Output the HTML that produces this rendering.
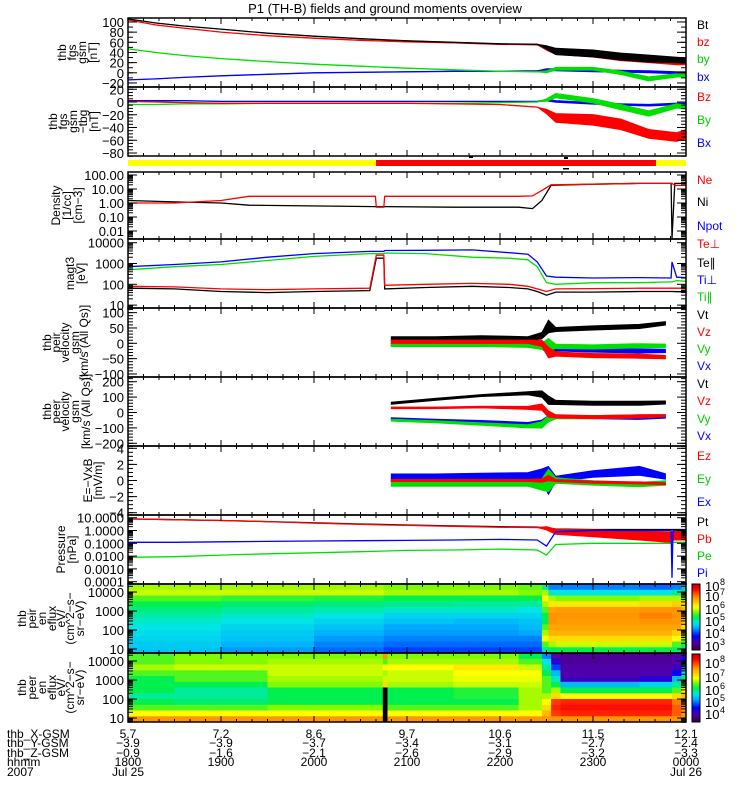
<!DOCTYPE html>
<html><head><meta charset="utf-8"><style>
body{margin:0;background:#fff}
svg{display:block;font-family:"Liberation Sans",sans-serif}
</style></head><body>
<svg id="chart" width="750" height="800" viewBox="0 0 750 800" xmlns="http://www.w3.org/2000/svg">
<rect x="0" y="0" width="750" height="800" fill="#fff"/>
<text x="385" y="13" font-size="13" text-anchor="middle">P1 (TH-B) fields and ground moments overview</text>
</svg>
<script>
// ---- data (time in hours after 18:00) ----
const fgsTimes=[0,0.3,0.6,1,1.5,2,2.5,3,3.5,4,4.4,4.5,4.6,5,5.3,5.6,5.9,6];
const fgsBt=[106,98,92,86,78,72,67,63,60,57,56,50,42,38,32,28,25,24];
const fgsBtSpread=[0,0,0,0,0,0,0,0,0,0,0,5,9,10,10,10,8,8];
const fgsBz=[104,94,88,80,73,68,64,61,59,56,55,47,40,35,28,24,20,20];
const fgsBzSpread=[0,0,0,0,0,0,0,0,0,0,0,4,6,6,6,6,6,6];
const fgsBy=[47,40,34,28,22,17,13,9,6,3,2,2,8,8,0,-12,-5,-5];
const fgsBySpread=[0,0,0,0,0,0,0,0,0,0,0,3,4,4,5,6,5,5];
const fgsBx=[-14,-12,-9,-6,-3,0,1,2,3,3,4,6,6,4,3,2,0,0];
const fgsBxSpread=[0,0,0,0,0,0,0,0,0,0,0,3,3,3,3,3,3,3];
const dBz=[1,0,-1,-2,-2,-2,-2,-2,-3,-4,-8,-15,-25,-28,-35,-50,-55,-50];
const dBzSpread=[0,0,0,0,0,0,0,0,0,0,0,5,10,12,12,10,10,10];
const dBy=[-4,-4,-3,-3,-2,-2,-2,-2,-2,-1,0,3,10,2,-8,-18,-6,-8];
const dBySpread=[0,0,0,0,0,0,0,0,0,0,0,3,5,5,6,6,5,5];
const dBx=[2,2,2,1,1,1,1,1,1,1,1,3,1,-2,-4,-5,-3,-3];
const dBxSpread=[0,0,0,0,0,0,0,0,0,0,0,2,2,2,2,2,2,2];

const denTimes=[0,0.5,1.0,1.3,2.66,2.67,2.75,2.76,3.5,4.2,4.35,4.45,4.55,5,5.5,5.84,5.85,5.88,6];
const denNe=[1,1,1.5,3,3,0.5,0.5,3,3,3,3.2,8,20,22,25,25,25,18,18];
const denNi=[1.5,1.2,1,0.7,0.55,0.55,0.55,0.55,0.5,0.5,0.4,1.5,18,22,25,25,0.003,25,25];

const tmpTimes=[0,0.5,1,1.5,2,2.6,2.67,2.75,2.76,3.2,3.7,4.1,4.3,4.4,4.5,4.6,5,5.5,5.84,5.85,5.9,6];
const tmpTiPerp=[700,900,1200,2000,3000,3800,3800,3800,4200,4300,4500,3300,2800,1200,250,220,200,210,200,1200,220,210];
const tmpTiPar=[500,700,900,1400,2200,3000,3000,3000,3200,3000,2000,1800,1500,700,120,100,120,120,130,130,150,140];
const tmpTePerp=[80,75,60,55,60,65,2500,2500,90,100,110,100,80,60,45,60,62,65,65,65,65,65];
const tmpTePar=[65,60,45,40,45,50,1800,1800,60,70,80,70,60,45,30,42,42,45,45,45,44,44];

const velTimes=[2.83,3.3,3.8,4.3,4.45,4.52,4.6,5,5.5,5.78];
const irVt=[15,15,18,15,25,55,45,50,55,65];
const irVtSpread=[10,10,10,10,15,30,10,10,10,8];
const irVz=[5,5,5,5,0,-30,-35,-40,-42,-45];
const irVzSpread=[8,8,8,8,15,25,10,10,10,8];
const irVy=[-5,-5,-5,-8,-10,-5,-10,-12,-8,-8];
const irVySpread=[8,8,8,8,15,30,10,10,10,8];
const irVx=[-5,-5,-5,-5,-8,-15,-18,-22,-25,-25];
const irVxSpread=[7,7,7,7,15,30,10,10,10,8];
const erVt=[60,85,110,125,120,80,65,60,60,65];
const erVtSpread=[10,10,10,15,30,40,20,20,20,15];
const erVz=[30,30,35,30,35,-10,-25,-30,-25,-20];
const erVzSpread=[8,8,8,15,30,30,15,15,15,10];
const erVy=[-50,-60,-75,-90,-80,-40,-30,-30,-25,-20];
const erVySpread=[10,10,12,15,30,30,15,15,15,10];
const erVx=[-40,-50,-60,-75,-70,-40,-30,-30,-35,-30];
const erVxSpread=[10,10,12,15,30,30,15,15,15,10];
const efEz=[0,0,0,0,0,0.3,0,-0.2,-0.3,-0.4];
const efEzSpread=[0.2,0.2,0.2,0.2,0.3,0.5,0.2,0.2,0.2,0.2];
const efEy=[-0.3,-0.3,-0.3,-0.3,-0.5,0,0,-0.3,-0.5,-0.3];
const efEySpread=[0.6,0.6,0.6,0.6,1,2,0.5,0.4,0.4,0.4];
const efEx=[0.4,0.4,0.5,0.5,0.6,0,0.2,0.8,1.2,0.5];
const efExSpread=[0.6,0.6,0.6,0.7,1.2,2.5,0.5,0.6,0.8,0.5];

const prTimes=[0,0.5,1,1.5,2,2.5,3,3.5,4,4.4,4.5,4.6,5,5.5,5.84,5.85,5.86,6];
const prPt=[8,7,6,5,4,3.2,2.7,2.3,2,1.8,1.6,1.3,1.2,1.2,1.2,1.2,1.2,1.2];
const prPb=[8,7,6,5,3.8,3,2.5,2.1,1.8,1.7,1.5,0.8,0.6,0.4,0.3,0.3,0.4,0.4];
const prPbSpread=[0,0,0,0,0,0,0,0,0,0,0.2,0.3,0.4,0.5,0.6,0.6,0.5,0.5];
const prPe=[0.008,0.009,0.012,0.015,0.018,0.022,0.028,0.03,0.035,0.03,0.012,0.08,0.1,0.1,0.1,0.12,0.12,0.12];
const prPi=[0.12,0.12,0.13,0.14,0.15,0.16,0.17,0.18,0.2,0.18,0.06,0.8,1,1,1,0.0002,1,1];

const s1Times=[0,1,2,2.75,3.5,4.2,4.45,4.52,4.6,5.5,5.85,5.95];
const s1Grid=[
[0.6,0.62,0.55,0.5,0.47,0.44,0.42,0.4,0.39,0.38,0.37,0.36],
[0.6,0.62,0.53,0.48,0.45,0.42,0.4,0.38,0.37,0.36,0.34,0.32],
[0.6,0.62,0.52,0.47,0.44,0.4,0.38,0.36,0.34,0.32,0.3,0.28],
[0.58,0.6,0.5,0.46,0.42,0.38,0.36,0.33,0.32,0.3,0.28,0.25],
[0.58,0.6,0.5,0.45,0.42,0.38,0.35,0.33,0.32,0.3,0.28,0.25],
[0.56,0.58,0.5,0.45,0.4,0.38,0.36,0.35,0.33,0.3,0.28,0.25],
[0.45,0.6,0.65,0.6,0.55,0.5,0.5,0.55,0.6,0.65,0.55,0.45],
[0.3,0.42,0.6,0.68,0.78,0.8,0.8,0.78,0.76,0.7,0.6,0.5],
[0.3,0.4,0.58,0.68,0.79,0.8,0.79,0.78,0.76,0.7,0.62,0.5],
[0.28,0.4,0.6,0.7,0.8,0.82,0.8,0.78,0.76,0.7,0.62,0.5],
[0.3,0.45,0.6,0.72,0.8,0.8,0.8,0.78,0.72,0.65,0.55,0.48],
[0.35,0.5,0.6,0.7,0.75,0.75,0.72,0.7,0.65,0.6,0.5,0.45]];
const s2Times=[0,0.5,1.5,2.74,2.79,3.5,4.2,4.45,4.55,4.65,5.5,5.85,5.95];
const s2Grid=[
[0.55,0.55,0.6,0.55,0.5,0.5,0.5,0.45,0.5,0.55,0.65,0.8],
[0.58,0.58,0.62,0.55,0.55,0.5,0.45,0.45,0.48,0.55,0.65,0.8],
[0.58,0.6,0.62,0.62,0.6,0.58,0.5,0.5,0.5,0.58,0.65,0.8],
[0.8,0.55,0.65,0.6,0.62,0.7,-1,-1,-1,-1,-1,-1],
[0.58,0.6,0.65,0.62,0.62,0.6,0.5,0.5,0.5,0.55,0.65,0.8],
[0.58,0.6,0.68,0.65,0.64,0.62,0.52,0.52,0.5,0.55,0.65,0.8],
[0.5,0.55,0.62,0.65,0.64,0.62,0.6,0.6,0.6,0.6,0.65,0.8],
[0.3,0.4,0.45,0.5,0.55,0.55,0.55,0.6,0.65,0.7,0.75,0.8],
[0.1,0.15,0.25,0.35,0.42,0.5,0.6,0.7,0.88,0.9,0.88,0.8],
[0.08,0.08,0.1,0.1,0.12,0.35,0.5,0.65,0.9,0.92,0.9,0.8],
[0.08,0.08,0.1,0.1,0.15,0.38,0.5,0.65,0.9,0.92,0.9,0.8],
[0.1,0.1,0.12,0.2,0.35,0.45,0.55,0.7,0.82,0.85,0.85,0.8],
[0.15,0.2,0.3,0.4,0.5,0.55,0.65,0.75,0.8,0.8,0.8,0.8]];

const hourLabels=["1800","1900","2000","2100","2200","2300","0000"];
const xGsm=["5.7","7.2","8.6","9.7","10.6","11.5","12.1"];
const yGsm=["-3.9","-3.9","-3.7","-3.4","-3.1","-2.7","-2.4"];
const zGsm=["-0.9","-1.6","-2.1","-2.6","-2.9","-3.2","-3.3"];

// ---- drawing ----
const NS="http://www.w3.org/2000/svg";
const svg=document.getElementById('chart');
const XL=128,XR=686;
const SPREAD_SCALE=0.7;
function X(t){return XL+t*93;}
function mk(tag,attrs,parent){const e=document.createElementNS(NS,tag);for(const k in attrs)e.setAttribute(k,attrs[k]);(parent||svg).appendChild(e);return e;}
function txt(s,x,y,size,anchor,fill,parent){const e=mk('text',{x:x,y:y,'font-size':size,'text-anchor':anchor||'start',fill:fill||'#000'},parent);e.textContent=s;return e;}

const panels=[
 {id:'fgs',top:18,bot:87,y:v=>72.8-v*0.5083,log:false,ticks:[100,80,60,40,20,0,-20],minor:10,lab:["thb","fgs","gsm","[nT]"],lx:[62,72,82,93],fmt:v=>String(v).replace('-','\u2212')},
 {id:'fgs-dev',top:87,bot:156,y:v=>102-v*0.6375,log:false,ticks:[20,0,-20,-40,-60,-80],minor:5,lab:["thb","fgs","gsm","\u2212tbg","[nT]"],lx:[53,63,73,83,94],fmt:v=>String(v).replace('-','\u2212')},
 {id:'density',top:172,bot:239,y:v=>175+(2-Math.log10(v))*14,log:true,ticks:[100,10,1,0.1,0.01],lab:["Density","[1/cc]","[cm\u22123]"],lx:[56,67,78],fmt:v=>v.toFixed(2)},
 {id:'temperature',top:239,bot:308,y:v=>242.7+(4-Math.log10(v))*20.8,log:true,ticks:[10000,1000,100,10],lab:["magt3","[eV]"],lx:[70,81],fmt:v=>String(v)},
 {id:'peir-velocity',top:308,bot:377,y:v=>343.3-v*0.3067,log:false,ticks:[100,50,0,-50,-100],minor:10,lab:["thb","peir","velocity","gsm","[km/s (All Qs)]"],lx:[47,56,65,75,84],fmt:v=>String(v).replace('-','\u2212')},
 {id:'peer-velocity',top:377,bot:446,y:v=>412.5-v*0.154,log:false,ticks:[200,100,0,-100,-200],minor:20,lab:["thb","peer","velocity","gsm","[km/s (All Qs)]"],lx:[47,56,65,75,86],fmt:v=>String(v).replace('-','\u2212')},
 {id:'efield',top:446,bot:515,y:v=>480.5-v*8.05,log:false,ticks:[4,2,0,-2,-4],minor:0.5,lab:["E=\u2212VxB","[mV/m]"],lx:[88,98],fmt:v=>String(v).replace('-','\u2212')},
 {id:'pressure',top:515,bot:584,y:v=>517.7+(1-Math.log10(v))*12.8,log:true,ticks:[10,1,0.1,0.01,0.001,0.0001],lab:["Pressure","[nPa]"],lx:[61,72],fmt:v=>v.toFixed(4)},
 {id:'peir-spectrogram',top:584,bot:653,y:v=>592+(4-Math.log10(v))*19,log:true,ticks:[10000,1000,100,10],lab:["thb","peir","en","eflux","eV/","(cm^2\u2212s\u2212","sr\u2212eV)"],lx:[22,32,42,52,61,70,80],fmt:v=>String(v)},
 {id:'peer-spectrogram',top:653,bot:722,y:v=>661+(4-Math.log10(v))*19,log:true,ticks:[10000,1000,100,10],lab:["thb","peer","en","eflux","eV/","(cm^2\u2212s\u2212","sr\u2212eV)"],lx:[22,32,42,52,61,70,80],fmt:v=>String(v)}
];

panels.forEach((p,i)=>{
  const cp=mk('clipPath',{id:'clip'+i});
  mk('rect',{x:XL,y:p.top,width:XR-XL,height:p.bot-p.top},cp);
  p.g=mk('g',{'clip-path':'url(#clip'+i+')'});
  
  
});

function series(p,name,ts,vs,sp,color){
  const g=mk('g',{},p.g);
  
  
  if(sp){
    const up=[],lo=[];
    for(let i=0;i<ts.length;i++){
      const s=sp[i]*SPREAD_SCALE;
      let a,b;
      if(p.log){a=Math.pow(10,Math.log10(vs[i])+s);b=Math.pow(10,Math.log10(vs[i])-s);}
      else{a=vs[i]+s;b=vs[i]-s;}
      up.push(X(ts[i]).toFixed(1)+','+p.y(a).toFixed(1));
      lo.unshift(X(ts[i]).toFixed(1)+','+p.y(b).toFixed(1));
    }
    mk('polygon',{points:up.concat(lo).join(' '),fill:color,stroke:color,'stroke-width':0.8},g);
  }
  const pts=ts.map((t,i)=>X(t).toFixed(1)+','+p.y(vs[i]).toFixed(1)).join(' ');
  mk('polyline',{points:pts,fill:'none',stroke:color,'stroke-width':1.3},g);
}
const P=panels;
series(P[0],'bx-line',fgsTimes,fgsBx,fgsBxSpread,'#0000ff');
series(P[0],'by-line',fgsTimes,fgsBy,fgsBySpread,'#00e000');
series(P[0],'bz-line',fgsTimes,fgsBz,fgsBzSpread,'#ff0000');
series(P[0],'bt-line',fgsTimes,fgsBt,fgsBtSpread,'#000000');
series(P[1],'dbx-line',fgsTimes,dBx,dBxSpread,'#0000ff');
series(P[1],'dby-line',fgsTimes,dBy,dBySpread,'#00e000');
series(P[1],'dbz-line',fgsTimes,dBz,dBzSpread,'#ff0000');
series(P[2],'ni-line',denTimes,denNi,null,'#000000');
series(P[2],'ne-line',denTimes,denNe,null,'#ff0000');
series(P[3],'ti-perp-line',tmpTimes,tmpTiPerp,null,'#0000ff');
series(P[3],'ti-par-line',tmpTimes,tmpTiPar,null,'#00e000');
series(P[3],'te-par-line',tmpTimes,tmpTePar,null,'#000000');
series(P[3],'te-perp-line',tmpTimes,tmpTePerp,null,'#ff0000');
series(P[4],'peir-vt-line',velTimes,irVt,irVtSpread,'#000000');
series(P[4],'peir-vx-line',velTimes,irVx,irVxSpread,'#0000ff');
series(P[4],'peir-vy-line',velTimes,irVy,irVySpread,'#00e000');
series(P[4],'peir-vz-line',velTimes,irVz,irVzSpread,'#ff0000');
series(P[5],'peer-vt-line',velTimes,erVt,erVtSpread,'#000000');
series(P[5],'peer-vx-line',velTimes,erVx,erVxSpread,'#0000ff');
series(P[5],'peer-vy-line',velTimes,erVy,erVySpread,'#00e000');
series(P[5],'peer-vz-line',velTimes,erVz,erVzSpread,'#ff0000');
series(P[6],'ex-line',velTimes,efEx,efExSpread,'#0000ff');
series(P[6],'ey-line',velTimes,efEy,efEySpread,'#00e000');
series(P[6],'ez-line',velTimes,efEz,efEzSpread,'#ff0000');
series(P[7],'pt-line',prTimes,prPt,null,'#000000');
series(P[7],'pb-line',prTimes,prPb,prPbSpread,'#ff0000');
series(P[7],'pe-line',prTimes,prPe,null,'#00e000');
series(P[7],'pi-line',prTimes,prPi,null,'#0000ff');

// colormap
const cstops=[[0,[60,0,80]],[0.1,[80,0,170]],[0.2,[0,0,255]],[0.33,[0,170,255]],[0.4,[0,230,230]],[0.5,[0,240,80]],[0.58,[130,250,0]],[0.65,[255,255,0]],[0.8,[255,150,0]],[0.93,[255,0,0]],[1,[200,0,0]]];
function cmap(v){
  if(v<0)return '#000';
  v=Math.max(0,Math.min(1,v));
  for(let i=1;i<cstops.length;i++){
    if(v<=cstops[i][0]){const a=cstops[i-1],b=cstops[i];const f=(v-a[0])/(b[0]-a[0]);
      return 'rgb('+a[1].map((c,k)=>Math.round(c+(b[1][k]-c)*f)).join(',')+')';}
  }
  return 'rgb(200,0,0)';
}
function spec(p,times,grid,name){
  const g=mk('g',{},p.g);
  
  
  const rows=grid[0].length,h=(p.bot-p.top)/rows;
  for(let c=0;c<times.length;c++){
    const x0=X(times[c]),x1=c+1<times.length?X(times[c+1]):XR;
    for(let r=0;r<rows;r++){
      const cell=mk('rect',{x:x0.toFixed(1),y:(p.top+r*h).toFixed(1),width:(x1-x0+0.5).toFixed(1),height:(h+0.5).toFixed(1),fill:cmap(grid[c][r])},g);
      
      
    }
  }
}
spec(P[8],s1Times,s1Grid,'peir-spectrogram-cells');
spec(P[9],s2Times,s2Grid,'peer-spectrogram-cells');

// axes, ticks, labels
panels.forEach((p,i)=>{
  const ax=mk('g',{});
  
  
  mk('rect',{x:XL,y:p.top,width:XR-XL,height:p.bot-p.top,fill:'none',stroke:'#000','stroke-width':1.5},ax);
  for(let m=0;m<=36;m++){
    const x=XL+m*93/6,len=m%6===0?6:3;
    mk('line',{x1:x,y1:p.top,x2:x,y2:p.top+len,stroke:'#000'},ax);
    mk('line',{x1:x,y1:p.bot,x2:x,y2:p.bot-len,stroke:'#000'},ax);
  }
  const tk=(y,len)=>{if(y<p.top-0.5||y>p.bot+0.5)return;
    mk('line',{x1:XL,y1:y,x2:XL+len,y2:y,stroke:'#000'},ax);
    mk('line',{x1:XR,y1:y,x2:XR-len,y2:y,stroke:'#000'},ax);};
  if(p.log){
    const lo=Math.min(...p.ticks),hi=Math.max(...p.ticks);
    for(let d=lo/10;d<=hi*10;d*=10){for(let k=1;k<10;k++)tk(p.y(d*k),k===1?9:5);}
  }else{
    const lo=Math.min(...p.ticks)-2*p.minor*10,hi=Math.max(...p.ticks)+2*p.minor*10;
    for(let v=lo;v<=hi+1e-9;v+=p.minor)tk(p.y(v),5);
    p.ticks.forEach(v=>tk(p.y(v),9));
  }
  p.ticks.forEach(v=>{const t=txt(p.fmt(v),124,p.y(v)+5,13,'end','#000',ax);
    });
  const cy=(p.top+p.bot)/2;
  p.lab.forEach((s,k)=>{const t=txt(s,0,0,12,'middle','#000',ax);
    t.setAttribute('transform','translate('+(p.lx[k]+4)+','+cy+') rotate(-90)');
    });
});

// mode bar
const bar=mk('g',{});


mk('rect',{x:XL,y:160,width:376-XL,height:6,fill:'#ffff00'},bar);
mk('rect',{x:376,y:160,width:656-376,height:6,fill:'#ff0000'},bar);
mk('rect',{x:656,y:160,width:XR-656,height:6,fill:'#ffff00'},bar);
mk('rect',{x:469,y:156,width:4,height:2,fill:'#000'},bar);
mk('rect',{x:564,y:157,width:4,height:2,fill:'#000'},bar);
mk('rect',{x:563,y:168,width:6,height:1.5,fill:'#000'},bar);

// legends
const legend=[
 ['Bt','#000',24],['bz','#f00',41],['by','#0c0',58],['bx','#00f',76],
 ['Bz','#f00',96],['By','#0c0',119],['Bx','#00f',142],
 ['Ne','#f00',179],['Ni','#000',201],['Npot','#00f',225],['Te\u22a5','#f00',243],
 ['Te\u2225','#000',262],['Ti\u22a5','#00f',279],['Ti\u2225','#0c0',296],
 ['Vt','#000',314],['Vz','#f00',331],['Vy','#0c0',348],['Vx','#00f',365],
 ['Vt','#000',383],['Vz','#f00',400],['Vy','#0c0',418],['Vx','#00f',435],
 ['Ez','#f00',455],['Ey','#0c0',478],['Ex','#00f',501],
 ['Pt','#000',521],['Pb','#f00',538],['Pe','#0c0',555],['Pi','#00f',572]];
legend.forEach(l=>{const t=txt(l[0],697,l[2]+5,12,'start',l[1]);
  });

// colorbars
function cbar(top,bot,labels,name){
  const g=mk('g',{});
  
  
  const n=40,h=(bot-top)/n;
  for(let i=0;i<n;i++)mk('rect',{x:692,y:top+i*h,width:8,height:h+0.4,fill:cmap(1-i/(n-1))},g);
  mk('rect',{x:692,y:top,width:8,height:bot-top,fill:'none',stroke:'#000'},g);
  labels.forEach(l=>{txt('10',705,l[1]+5,13,'start','#000',g);txt(String(l[0]),720,l[1]-1,9,'start','#000',g);});
}
cbar(584,650,[[8,586],[7,596],[6,609],[5,621],[4,633],[3,646]],'peir-colorbar');
cbar(654,722,[[8,663],[7,677],[6,690],[5,702],[4,714]],'peer-colorbar');

// bottom annotation
const rowsY=[738,747,757,766,776];
const names=['thb_X-GSM','thb_Y-GSM','thb_Z-GSM','hhmm','2007'];
names.forEach((s,i)=>{const t=txt(s,7,rowsY[i],12,'start');});
[xGsm,yGsm,zGsm,hourLabels].forEach((arr,r)=>arr.forEach((s,i)=>{
  const t=txt(s.replace('-','\u2212'),X(i),rowsY[r],12,'middle');
  }));
const d1=txt('Jul 25',X(0),rowsY[4],12,'middle');


const d2=txt('Jul 26',X(6),rowsY[4],12,'middle');


</script>
</body></html>
